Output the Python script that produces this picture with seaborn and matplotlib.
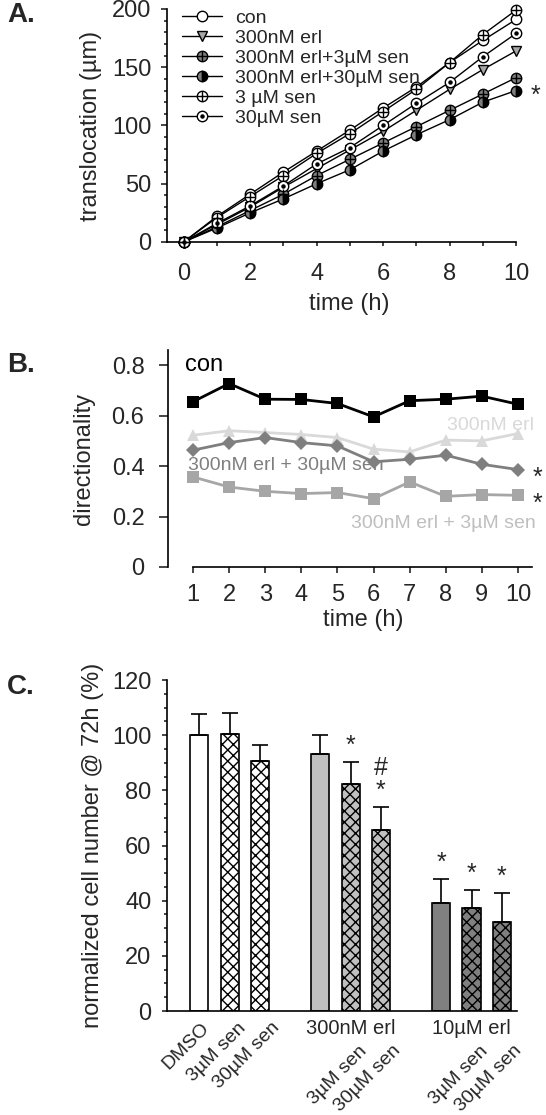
#!/usr/bin/env python3
"""
plot.py - Migration (translocation, directionality) and cell number panels.
"""
import matplotlib
matplotlib.use('Agg')

import matplotlib.pyplot as plt
import numpy as np
import pandas as pd
import seaborn as sns
from matplotlib import font_manager
from matplotlib.font_manager import FontProperties
from matplotlib.legend_handler import HandlerTuple
from matplotlib.lines import Line2D
from matplotlib.textpath import TextPath
from matplotlib.ticker import MultipleLocator

# -- Panel A: translocation (um) over time -- #

TIME_A = [0, 1, 2, 3, 4, 5, 6, 7, 8, 9, 10]
CON_A = [0, 22, 41, 60, 78, 96, 115, 133, 154, 173, 191]
ERL_A = [0, 15, 30, 47, 63, 79, 95, 113, 131, 148, 164]
ERL_SEN3_A = [0, 13, 27, 41, 57, 71, 85, 99, 113, 127, 141]
ERL_SEN30_A = [0, 12, 25, 37, 50, 62, 78, 92, 105, 120, 130]
SEN3_A = [0, 21, 39, 57, 76, 93, 112, 131, 154, 178, 199]
SEN30_A = [0, 16, 31, 48, 67, 81, 100, 119, 137, 159, 179]
LABELS_A = ['con', '300nM erl', '300nM erl+3µM sen', '300nM erl+30µM sen',
            '3 µM sen', '30µM sen']

# -- Panel B: directionality over time -- #

TIME_B = [1, 2, 3, 4, 5, 6, 7, 8, 9, 10]
CON_B = [0.655, 0.727, 0.665, 0.664, 0.648, 0.595, 0.659, 0.665, 0.677, 0.645]
ERL_B = [0.522, 0.540, 0.533, 0.525, 0.513, 0.467, 0.456, 0.503, 0.500, 0.529]
ERL_SEN30_B = [0.463, 0.493, 0.513, 0.493, 0.480, 0.417, 0.427, 0.443, 0.407, 0.386]
ERL_SEN3_B = [0.357, 0.317, 0.300, 0.291, 0.295, 0.271, 0.337, 0.280, 0.287, 0.284]

# -- Panel C: normalized cell number @ 72h -- #

GROUPS_C = ['DMSO', '300nM erl', '10µM erl']
TREATMENTS_C = ['', '3µM sen', '30µM sen']
MEANS_C = [100.0, 100.4, 90.6, 93.1, 82.3, 65.6, 39.0, 37.5, 32.1]
SEM_C = [7.7, 7.5, 6.0, 6.9, 7.8, 8.2, 9.0, 6.3, 10.8]
MARKS_C = ['', '', '', '', '*', '#\n*', '*', '*', '*']

GROUP_FILLS = ['white', '#c0c0c0', '#808080']

sns.set_style('ticks')
names = {f.name for f in font_manager.fontManager.ttflist}
plt.rcParams['font.family'] = ['Liberation Sans', 'DejaVu Sans']
plt.rcParams['hatch.linewidth'] = 1.0
if 'Liberation Sans Narrow' in names:
    NARROW = dict(family=['Liberation Sans Narrow', 'DejaVu Sans'], fontsize=17)
else:
    NARROW = dict(family=['Liberation Sans', 'DejaVu Sans'], fontsize=14)

TICK_FS = 17
LABEL_FS = 17
ROT_FS = 14

fig = plt.figure(figsize=(5.46, 11.15), dpi=100)


def style_spines(ax):
    sns.despine(ax=ax)
    for side in ('left', 'bottom'):
        ax.spines[side].set_linewidth(1.2)
        ax.spines[side].set_color('black')


def text_width_pt(s, size):
    prop = FontProperties(family='Liberation Sans')
    return TextPath((0, 0), s, size=size, prop=prop).get_extents().width


# =========================================================================== #
# A.
# =========================================================================== #

ax_a = fig.add_axes([0.3059, 0.78296, 0.6392, 0.20897])

series_a = [CON_A, ERL_A, ERL_SEN3_A, ERL_SEN30_A, SEN3_A, SEN30_A]
base_styles = [
    dict(marker='o', markerfacecolor='white'),
    dict(marker='v', markerfacecolor='#a6a6a6'),
    dict(marker='o', markerfacecolor='#7f7f7f'),
    dict(marker='o', markerfacecolor='#7f7f7f', fillstyle='left',
         markerfacecoloralt='black'),
    dict(marker='o', markerfacecolor='white'),
    dict(marker='o', markerfacecolor='white'),
]
overlay_styles = [None, None, dict(marker='+', markersize=7.5),
                  None, dict(marker='+', markersize=7.5),
                  dict(marker='o', markersize=2.2, markerfacecolor='black')]

handles = []
for vals, base, over in zip(series_a, base_styles, overlay_styles):
    sns.lineplot(x=TIME_A, y=vals, ax=ax_a, color='black', linewidth=1,
                 markersize=7.5, mec='black', mew=1, errorbar=None,
                 clip_on=False, zorder=3, **base)
    h = Line2D([], [], color='black', linewidth=1, markersize=7.5,
               markeredgecolor='black', markeredgewidth=1, **base)
    if over is not None:
        ax_a.plot(TIME_A, vals, linestyle='none', color='black',
                  markeredgecolor='black', markeredgewidth=1, clip_on=False,
                  zorder=4, **over)
        h2 = Line2D([], [], linestyle='none', color='black',
                    markeredgecolor='black', markeredgewidth=1, **over)
        h = (h, h2)
    handles.append(h)

ax_a.legend(handles, LABELS_A, loc='upper left', bbox_to_anchor=(0.043, 1.0),
            frameon=False, fontsize=14, borderpad=0, borderaxespad=0,
            labelspacing=0.13, handlelength=2.06, handletextpad=0.67,
            handler_map={tuple: HandlerTuple(ndivide=1)})

ax_a.annotate('*', xy=(TIME_A[-1], ERL_SEN30_A[-1]), xytext=(14, -4),
              textcoords='offset points', ha='center', va='center',
              fontsize=18)

ax_a.set_xlim(-0.5, 10)
ax_a.set_ylim(0, 200)
ax_a.set_xticks(range(0, 11, 2))
ax_a.xaxis.set_minor_locator(MultipleLocator(1))
ax_a.yaxis.set_major_locator(MultipleLocator(50))
ax_a.yaxis.set_minor_locator(MultipleLocator(10))
ax_a.tick_params(axis='x', which='both', length=2.9, width=1.2, pad=12.5,
                 labelsize=TICK_FS)
ax_a.tick_params(axis='y', which='major', length=4.3, width=1.2, pad=7,
                 labelsize=TICK_FS)
ax_a.tick_params(axis='y', which='minor', length=2.2, width=1.2)
ax_a.set_xlabel('time (h)', fontsize=LABEL_FS, va='center')
ax_a.set_ylabel('translocation (µm)', fontsize=LABEL_FS, va='center')
ax_a.xaxis.set_label_coords(0.521, -0.268)
ax_a.yaxis.set_label_coords(-0.2186, 0.5)
style_spines(ax_a)

# =========================================================================== #
# B.
# =========================================================================== #

ax_b = fig.add_axes([0.3077, 0.49148, 0.6667, 0.19462])

series_b = [
    (CON_B, 'black', 's', 9),
    (ERL_B, '#d9d9d9', '^', 8.5),
    (ERL_SEN30_B, '#7f7f7f', 'D', 7),
    (ERL_SEN3_B, '#a6a6a6', 's', 9),
]
for vals, color, marker, ms in series_b:
    sns.lineplot(x=TIME_B, y=vals, ax=ax_b, color=color, linewidth=2,
                 marker=marker, markersize=ms, mec=color, mew=0,
                 errorbar=None, clip_on=False)

ax_b.text(0.78, 0.80, 'con', fontsize=17, color='black', va='center')
ax_b.text(10.44, 0.562, '300nM erl', color='#d9d9d9', ha='right',
          va='center', **NARROW)
ax_b.text(0.875, 0.404, '300nM erl + 30µM sen', color='#7f7f7f', ha='left',
          va='center', **NARROW)
ax_b.text(10.5, 0.174, '300nM erl + 3µM sen', color='#bfbfbf', ha='right',
          va='center', **NARROW)
for vals in (ERL_SEN30_B, ERL_SEN3_B):
    ax_b.annotate('*', xy=(TIME_B[-1], vals[-1]), xytext=(14, -6),
                  textcoords='offset points', ha='center', va='center',
                  fontsize=18, annotation_clip=False)

ax_b.set_xlim(0.3077, 10.388)
ax_b.set_ylim(0, 0.86)
ax_b.spines['bottom'].set_bounds(1, 10.388)
ax_b.set_xticks(TIME_B)
ax_b.set_yticks([0, 0.2, 0.4, 0.6, 0.8], ['0', '0.2', '0.4', '0.6', '0.8'])
ax_b.tick_params(axis='x', length=4.3, width=1.2, pad=8.3, labelsize=TICK_FS)
ax_b.tick_params(axis='y', length=6.5, width=1.2, pad=10.5, labelsize=TICK_FS)
ax_b.set_xlabel('time (h)', fontsize=LABEL_FS, va='center')
ax_b.set_ylabel('directionality', fontsize=LABEL_FS, va='center')
ax_b.xaxis.set_label_coords(0.536, -0.244)
ax_b.yaxis.set_label_coords(-0.2308, 0.5)
style_spines(ax_b)

# =========================================================================== #
# C.
# =========================================================================== #

ax_c = fig.add_axes([0.3059, 0.09327, 0.6403, 0.29686])

group_idx = np.repeat(np.arange(len(GROUPS_C)), len(TREATMENTS_C))
treat_idx = np.tile(np.arange(len(TREATMENTS_C)), len(GROUPS_C))
positions = group_idx * (len(TREATMENTS_C) + 1) + treat_idx

df_c = pd.DataFrame({'pos': positions, 'value': MEANS_C})
sns.barplot(data=df_c, x='pos', y='value', native_scale=True, width=0.6,
            color='white', edgecolor='black', linewidth=1.2, errorbar=None,
            saturation=1, ax=ax_c)
for patch, g, t in zip(ax_c.patches, group_idx, treat_idx):
    patch.set_facecolor(GROUP_FILLS[g])
    patch.set_edgecolor('black')
    patch.set_hatch('xxx' if t > 0 else '')

ax_c.errorbar(positions, MEANS_C, yerr=[np.zeros(len(SEM_C)), SEM_C],
              fmt='none', ecolor='black', elinewidth=1.2, capsize=6.1,
              capthick=1.2, zorder=1)

for p, m, s, mark in zip(positions, MEANS_C, SEM_C, MARKS_C):
    if mark:
        ax_c.annotate(mark, xy=(p, m + s), xytext=(0, 3),
                      textcoords='offset points', ha='center', va='bottom',
                      fontsize=18, linespacing=0.95)

# category labels under the axis (rotated, text end anchored near the bar)
for p, g, t in zip(positions, group_idx, treat_idx):
    if t == 0 and g > 0:
        ax_c.annotate(GROUPS_C[g], xy=(p + 1, 0),
                      xycoords=('data', 'axes fraction'), xytext=(0, -12.5),
                      textcoords='offset points', ha='center', va='center',
                      fontsize=14.5)
        continue
    text = GROUPS_C[g] if t == 0 else TREATMENTS_C[t]
    dx = 0.354 * text_width_pt(text, ROT_FS) - 13.2
    dy = -6 if g == 0 else -22.5
    ax_c.annotate(text, xy=(p, 0), xycoords=('data', 'axes fraction'),
                  xytext=(dx, dy), textcoords='offset points', ha='right',
                  va='top', rotation=45, rotation_mode='anchor',
                  fontsize=ROT_FS)

ax_c.set_xlim(-1.07, 10.49)
ax_c.set_ylim(0, 120)
ax_c.set_xticks([])
ax_c.set_xlabel('')
ax_c.yaxis.set_major_locator(MultipleLocator(20))
ax_c.yaxis.set_minor_locator(MultipleLocator(5))
ax_c.tick_params(axis='y', which='major', length=3.6, width=1.2, pad=7.5,
                 labelsize=TICK_FS)
ax_c.tick_params(axis='y', which='minor', length=2.2, width=1.2)
ax_c.set_ylabel('normalized cell number @ 72h (%)', fontsize=LABEL_FS,
                va='center')
ax_c.yaxis.set_label_coords(-0.213, 0.5)
style_spines(ax_c)

# -- Panel letters -- #

for letter, y_px in (('A.', 15), ('B.', 365), ('C.', 687)):
    fig.text(7 / 546, 1 - y_px / 1115, letter, fontsize=20,
             fontweight='bold', va='center', ha='left')

fig.savefig('out.png', dpi=100)
